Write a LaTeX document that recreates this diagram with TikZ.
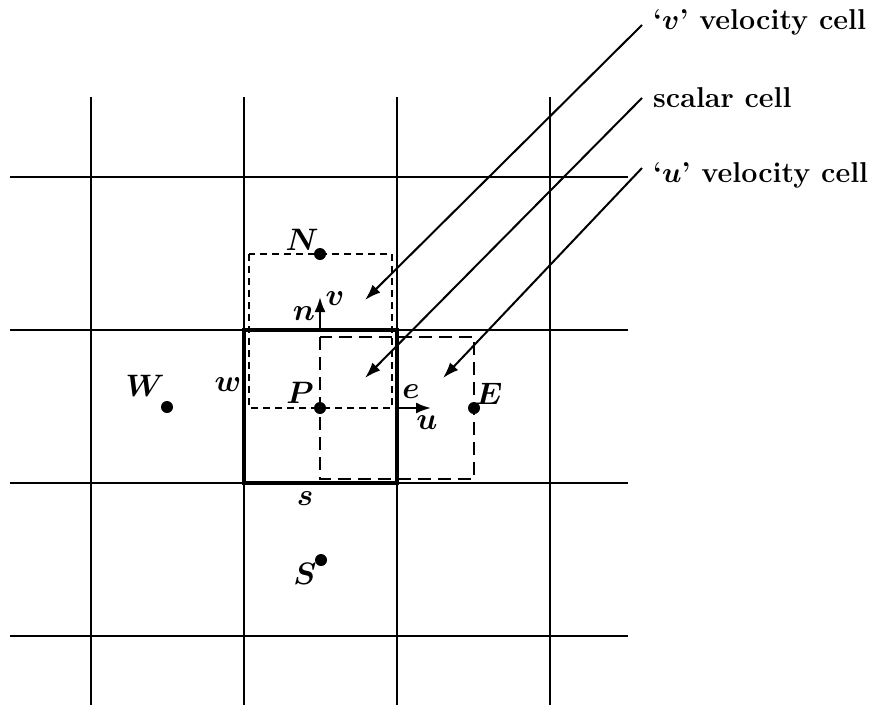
\RequirePackage{fix-cm}
\documentclass[tikz,border=0pt]{standalone}
\usepackage{bm}
\usetikzlibrary{arrows.meta}
\begin{document}
\begin{tikzpicture}[x=1pt,y=-1pt,
  gridline/.style={line width=2.3pt},
  thickcell/.style={line width=4.2pt},
  vcell/.style={line width=2.2pt,dash pattern=on 7pt off 5pt},
  ucell/.style={line width=2.2pt,dash pattern=on 13pt off 7pt},
  dot/.style={circle,fill=black,inner sep=0pt,minimum size=12pt},
  lab/.style={inner sep=0pt,font=\fontsize{31}{35}\selectfont},
  captext/.style={inner sep=0pt,anchor=west,font=\fontsize{28.7}{32}\selectfont\bfseries},
  vec/.style={line width=2.2pt,-{Latex[length=15pt,width=11pt]}},
  leader/.style={line width=2pt,-{Latex[length=16pt,width=11pt]}}]
\useasboundingbox (0,0) rectangle (875,715);
% grid
\foreach \x in {91,244,397,550} \draw[gridline] (\x,97) -- (\x,705);
\foreach \y in {177,330,483,636} \draw[gridline] (10,\y) -- (628,\y);
% cells
\draw[vcell] (249,254) rectangle (392,408);
\draw[ucell] (320,337) rectangle (474,479);
\draw[thickcell] (244,330) rectangle (397,483);
% points
\node[dot] (N) at (320,254) {};
\node[dot] (P) at (320,408) {};
\node[dot] (S) at (321,560) {};
\node[dot] (W) at (167,407) {};
\node[dot] (E) at (474,408) {};
\node[lab] (Nl) at (302,240) {$\bm{N}$};
\node[lab] (Pl) at (300,393) {$\bm{P}$};
\node[lab] (Sl) at (305,574) {$\bm{S}$};
\node[lab] (Wl) at (145,386) {$\bm{W}$};
\node[lab] (El) at (489,394) {$\bm{E}$};
\node[lab] (nl) at (304,314) {$\bm{n}$};
\node[lab] (sl) at (305,499) {$\bm{s}$};
\node[lab] (wl) at (228,385) {$\bm{w}$};
\node[lab] (el) at (411,392) {$\bm{e}$};
\node[lab] (vl) at (335,299) {$\bm{v}$};
\node[lab] (ul) at (427,423) {$\bm{u}$};
% velocity vectors
\coordinate (nface) at (320,330);
\coordinate (vtip) at (320,297);
\coordinate (eface) at (397,408);
\coordinate (utip) at (431,408);
\draw[vec] (nface) -- (vtip);
\draw[vec] (eface) -- (utip);
% captions
\node[captext] (tv) at (653,22) {`$\bm{v}$' velocity cell};
\node[captext] (ts) at (653,98) {scalar cell};
\node[captext] (tu) at (653,175) {`$\bm{u}$' velocity cell};
\coordinate (sv) at (642,25);
\coordinate (ss) at (642,98);
\coordinate (su) at (642,168);
\coordinate (ev) at (365,300);
\coordinate (es) at (365,378);
\coordinate (eu) at (443,378);
\draw[leader] (sv) -- (ev);
\draw[leader] (ss) -- (es);
\draw[leader] (su) -- (eu);
\end{tikzpicture}
\end{document}
